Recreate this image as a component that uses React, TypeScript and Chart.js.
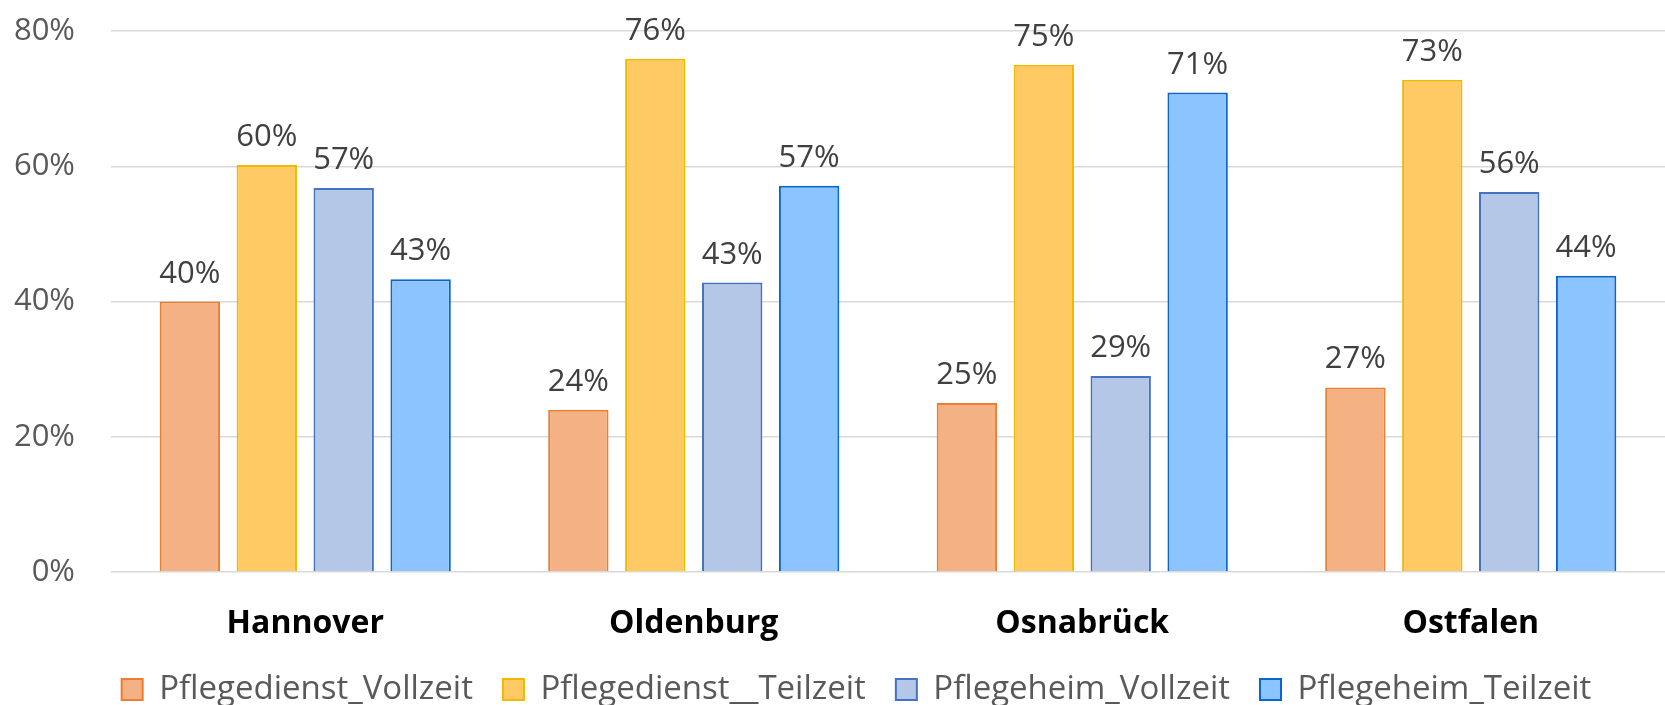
import React, { useEffect, useRef } from "react";
import { Chart, registerables } from "chart.js";

Chart.register(...registerables);

const categories = ["Hannover", "Oldenburg", "Osnabrück", "Ostfalen"];
const seriesNames = [
  "Pflegedienst_Vollzeit",
  "Pflegedienst__Teilzeit",
  "Pflegeheim_Vollzeit",
  "Pflegeheim_Teilzeit",
];
const pflegedienstVollzeit = [40.0, 24.0, 25.0, 27.3];
const pflegedienstTeilzeit = [60.2, 75.9, 75.0, 72.8];
const pflegeheimVollzeit = [56.8, 42.8, 29.0, 56.2];
const pflegeheimTeilzeit = [43.3, 57.1, 70.9, 43.8];
const yTicks = [0, 20, 40, 60, 80];

const fills = ["#F4B183", "#FFCA63", "#B4C7E7", "#8BC4FF"];
const borders = ["#ED7D31", "#F2B800", "#4472C4", "#0A66CC"];

const FONT = "'Open Sans', 'Noto Sans', sans-serif";

const LEGEND_HEIGHT = 62;
const LEGEND_SHIFT = 24;

const dataLabelPlugin = {
  id: "dataLabels",
  afterInit(chart: any) {
    const lg = chart.legend;
    if (lg) {
      const orig = lg.fit;
      lg.fit = function () {
        orig.call(this);
        this.height = LEGEND_HEIGHT;
        if (this.lineWidths && this.lineWidths.length) {
          this.lineWidths[0] -= 2 * LEGEND_SHIFT;
        }
      };
    }
  },
  afterDatasetsDraw(chart: any) {
    const ctx = chart.ctx;
    ctx.save();
    ctx.font = `31px ${FONT}`;
    ctx.fillStyle = "#404040";
    ctx.textAlign = "center";
    ctx.textBaseline = "alphabetic";
    chart.data.datasets.forEach((ds: any, i: number) => {
      const meta = chart.getDatasetMeta(i);
      meta.data.forEach((el: any, j: number) => {
        const v = ds.data[j];
        ctx.fillText(Math.round(v) + "%", el.x, el.y - 19);
      });
    });
    ctx.restore();
  },
};

export default function App() {
  const ref = useRef<HTMLCanvasElement>(null);
  useEffect(() => {
    document.body.style.margin = "0";
    const values = [pflegedienstVollzeit, pflegedienstTeilzeit, pflegeheimVollzeit, pflegeheimTeilzeit];
    const chart = new Chart(ref.current!, {
      type: "bar",
      data: {
        labels: categories,
        datasets: values.map((d, i) => ({
          label: seriesNames[i],
          data: d,
          backgroundColor: fills[i],
          borderColor: borders[i],
          borderWidth: 2,
          categoryPercentage: 0.792,
          barPercentage: 0.785,
        })),
      },
      options: {
        animation: false,
        responsive: true,
        maintainAspectRatio: false,
        layout: { padding: { top: 31, right: 0, left: 0, bottom: 0 } },
        plugins: {
          tooltip: { enabled: false },
          legend: {
            position: "bottom",
            labels: {
              boxWidth: 21,
              boxHeight: 21,
              padding: 30,
              color: "#595959",
              font: { family: FONT, size: 33 },
            },
          },
        },
        scales: {
          x: {
            afterFit: (s: any) => {
              s.height = 71;
            },
            grid: { display: false },
            border: { display: false },
            ticks: {
              color: "#000000",
              padding: 25,
              font: { family: FONT, size: 32, weight: "bold" },
            },
          },
          y: {
            min: 0,
            max: 80,
            afterFit: (s: any) => {
              s.width = 111;
              s.paddingTop = 0;
              s.paddingBottom = 0;
            },
            afterBuildTicks: (s: any) => {
              s.ticks = yTicks.map((v) => ({ value: v }));
            },
            grid: { color: "#D9D9D9", lineWidth: 1.5, drawTicks: false },
            border: { display: false },
            ticks: {
              padding: 36,
              color: "#595959",
              font: { family: FONT, size: 31 },
              callback: (v: any) => v + "%",
            },
          },
        },
      },
      plugins: [dataLabelPlugin],
    });
    return () => chart.destroy();
  }, []);
  return (
    <div style={{ position: "fixed", left: 0, top: 0, width: 1665, height: 705 }}>
      <canvas ref={ref} />
    </div>
  );
}
